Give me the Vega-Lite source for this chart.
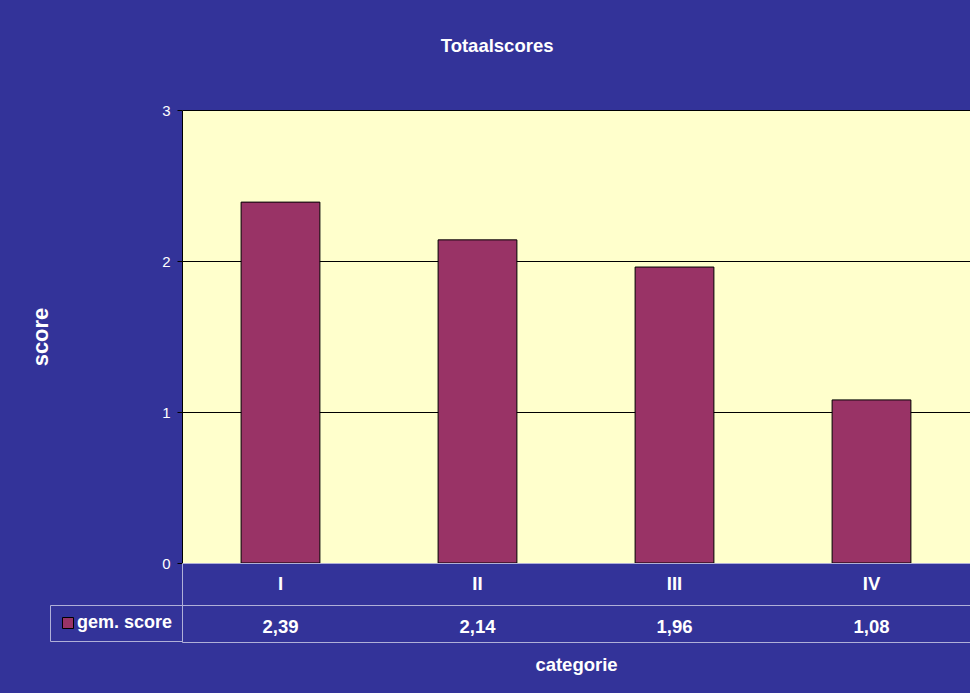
{
  "$schema": "https://vega.github.io/schema/vega-lite/v6.json",
  "background": "#333399",
  "padding": {"left": 29, "top": 36, "right": 0, "bottom": 24},
  "title": {
    "text": "Totaalscores",
    "color": "white",
    "font": "Liberation Sans",
    "fontSize": 18.5,
    "fontWeight": "bold",
    "anchor": "middle",
    "offset": 48,
    "dx": -3
  },
  "data": {
    "values": [
      {"categorie": "I", "score": 2.39, "reeks": "gem. score"},
      {"categorie": "II", "score": 2.14, "reeks": "gem. score"},
      {"categorie": "III", "score": 1.96, "reeks": "gem. score"},
      {"categorie": "IV", "score": 1.08, "reeks": "gem. score"}
    ]
  },
  "spacing": 0,
  "bounds": "flush",
  "vconcat": [
    {
      "width": 788,
      "height": 453,
      "view": {"fill": "#FFFFCC", "stroke": null},
      "mark": {"type": "bar", "color": "#993366", "stroke": "#000000", "strokeWidth": 1},
      "encoding": {
        "x": {
          "field": "categorie",
          "type": "nominal",
          "sort": null,
          "axis": null,
          "scale": {"paddingInner": 0.6, "paddingOuter": 0.3}
        },
        "y": {
          "field": "score",
          "type": "quantitative",
          "scale": {"domain": [0, 3], "nice": false},
          "axis": {
            "title": "score",
            "values": [0, 1, 2, 3],
            "format": "d",
            "grid": true,
            "gridColor": "#000000",
            "gridOpacity": 1,
            "gridWidth": 1,
            "domainColor": "#000000",
            "domainWidth": 1,
            "tickColor": "#000000",
            "tickSize": 5,
            "labelColor": "white",
            "labelFont": "Liberation Sans",
            "labelFontSize": 15,
            "labelPadding": 7,
            "titleColor": "white",
            "titleFont": "Liberation Sans",
            "titleFontSize": 22,
            "titleFontWeight": "bold",
            "titlePadding": 109
          }
        }
      }
    },
    {
      "width": 788,
      "height": 42,
      "mark": {
        "type": "text",
        "color": "white",
        "font": "Liberation Sans",
        "fontSize": 18.5,
        "fontWeight": "bold",
        "baseline": "middle"
      },
      "encoding": {
        "x": {
          "field": "categorie",
          "type": "nominal",
          "sort": null,
          "axis": null,
          "scale": {"paddingInner": 0, "paddingOuter": 0}
        },
        "text": {"field": "categorie"}
      }
    },
    {
      "width": 788,
      "height": 37,
      "layer": [
        {
          "mark": {"type": "square", "opacity": 0},
          "encoding": {
            "x": {
              "field": "categorie",
              "type": "nominal",
              "sort": null,
              "scale": {"paddingInner": 0, "paddingOuter": 0},
              "axis": {
                "title": "categorie",
                "labels": false,
                "ticks": false,
                "domain": false,
                "grid": false,
                "titleColor": "white",
                "titleFont": "Liberation Sans",
                "titleFontSize": 18.5,
                "titleFontWeight": "bold",
                "titlePadding": 13
              }
            },
            "color": {
              "field": "reeks",
              "type": "nominal",
              "scale": {"range": ["#993366"]},
              "legend": {
                "orient": "left",
                "offset": 0,
                "title": null,
                "padding": 9,
                "strokeColor": "#B0B0D8",
                "symbolType": "square",
                "symbolSize": 121,
                "symbolStrokeColor": "#000000",
                "symbolStrokeWidth": 1,
                "symbolOpacity": 1,
                "labelColor": "white",
                "labelFont": "Liberation Sans",
                "labelFontSize": 18,
                "labelFontWeight": "bold",
                "labelOffset": 0,
                "labelLimit": 300
              }
            }
          }
        },
        {
          "mark": {
            "type": "text",
            "color": "white",
            "font": "Liberation Sans",
            "fontSize": 18.5,
            "fontWeight": "bold",
            "baseline": "middle",
            "dy": 3
          },
          "encoding": {
            "x": {
              "field": "categorie",
              "type": "nominal",
              "sort": null,
              "scale": {"paddingInner": 0, "paddingOuter": 0},
              "axis": {
                "title": "categorie",
                "labels": false,
                "ticks": false,
                "domain": false,
                "grid": false,
                "titleColor": "white",
                "titleFont": "Liberation Sans",
                "titleFontSize": 18.5,
                "titleFontWeight": "bold",
                "titlePadding": 13
              }
            },
            "text": {"field": "score", "type": "quantitative", "format": ".2f"}
          }
        }
      ]
    }
  ],
  "resolve": {
    "scale": {"color": "independent"},
    "legend": {"color": "independent"}
  },
  "config": {
    "view": {"stroke": "#B0B0D8"},
    "locale": {
      "number": {"decimal": ",", "thousands": ".", "grouping": [3], "currency": ["€", ""]}
    }
  }
}
